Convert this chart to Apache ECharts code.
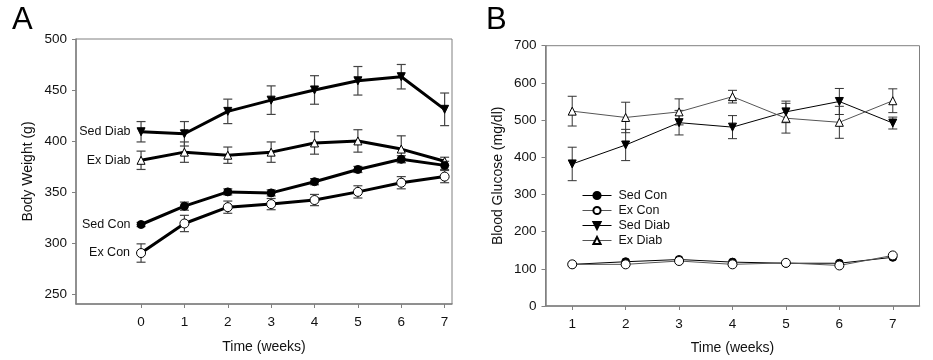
<!DOCTYPE html>
<html>
<head>
<meta charset="utf-8">
<script src="https://cdn.jsdelivr.net/npm/echarts@6/dist/echarts.min.js"></script>
<style>
  html, body { margin: 0; padding: 0; background: #fff; }
  #chart { width: 933px; height: 360px; }
</style>
</head>
<body>
<div id="chart"></div>
<script>
// Panel A: body weight (g), weeks 0-7
const weeksA = [0, 1, 2, 3, 4, 5, 6, 7];
const sedDiabA = [409, 407, 429, 440, 450, 459, 463, 431];
const sedDiabAErr = [10, 12, 12, 14, 14, 14, 12, 16];
const exDiabA = [381, 389, 386, 389, 398, 400, 392, 380];
const exDiabAErr = [9, 10, 8, 10, 11, 11, 13, 4];
const sedConA = [318, 336, 350, 349, 360, 372, 382, 376];
const sedConAErr = [2, 4, 3, 3, 3, 3, 3.5, 4];
const exConA = [290, 319, 335, 338, 342, 350, 359, 365];
const exConAErr = [9, 8, 6, 5.5, 5.5, 6, 6, 6];
const ticksA = [250, 300, 350, 400, 450, 500];

// Panel B: blood glucose (mg/dl), weeks 1-7
const weeksB = [1, 2, 3, 4, 5, 6, 7];
const sedConB = [112, 119, 125, 118, 115, 115, 131];
const exConB = [112, 112, 121, 112, 116, 109, 136];
const sedDiabB = [382, 433, 493, 481, 522, 550, 492];
const sedDiabBErr = [45, 42, 33, 31, 29, 35, 16];
const exDiabB = [524, 507, 522, 563, 505, 494, 552];
const exDiabBErr = [40, 41, 35, 17, 40, 43, 32];

const FONT = 'Liberation Sans';
const downTri = 'path://M0,0 L10,0 L5,9 Z';

function pts(xs, ys, label) {
  return xs.map((x, i) => {
    const item = { value: [x, ys[i]] };
    if (label && i === 0) {
      item.label = {
        show: true, position: 'left', distance: 6, formatter: label,
        fontFamily: FONT, fontSize: 12.5, color: '#111'
      };
    }
    return item;
  });
}

function errData(xs, ys, es) {
  return xs.map((x, i) => [x, ys[i] - es[i], ys[i] + es[i]]);
}

function errRender(color, width) {
  return function (params, api) {
    const x = api.value(0);
    const lo = api.coord([x, api.value(1)]);
    const hi = api.coord([x, api.value(2)]);
    const w = 4.5;
    const st = { stroke: color, lineWidth: width };
    return {
      type: 'group',
      children: [
        { type: 'line', shape: { x1: lo[0], y1: lo[1], x2: hi[0], y2: hi[1] }, style: st },
        { type: 'line', shape: { x1: lo[0] - w, y1: lo[1], x2: lo[0] + w, y2: lo[1] }, style: st },
        { type: 'line', shape: { x1: hi[0] - w, y1: hi[1], x2: hi[0] + w, y2: hi[1] }, style: st }
      ]
    };
  };
}

function errSeries(idx, xs, ys, es, color, width) {
  return {
    type: 'custom', xAxisIndex: idx, yAxisIndex: idx, z: 1, silent: true,
    renderItem: errRender(color, width),
    encode: { x: 0, y: [1, 2] },
    data: errData(xs, ys, es)
  };
}

function lineSeries(idx, name, xs, ys, opts) {
  return {
    type: 'line', name: name, xAxisIndex: idx, yAxisIndex: idx, z: 3,
    symbol: opts.symbol, symbolSize: opts.size || 8,
    showAllSymbol: true,
    lineStyle: { color: opts.line, width: opts.width },
    itemStyle: { color: opts.fill, borderColor: '#000', borderWidth: 1 },
    emphasis: { disabled: true },
    data: pts(xs, ys, opts.label)
  };
}

const axisText = { fontFamily: FONT, fontSize: 13.5, color: '#111' };
const nameText = { fontFamily: FONT, fontSize: 14, color: '#111' };
const axisLine = { show: true, onZero: false, lineStyle: { color: '#808080', width: 1.5 } };
const axisTick = { show: true, length: 4, lineStyle: { color: '#808080' } };

const chart = echarts.init(document.getElementById('chart'));
chart.setOption({
  animation: false,
  graphic: [
    { type: 'text', left: 12, top: 5, style: { text: 'A', font: '31px "Liberation Sans"', fill: '#000' } },
    { type: 'text', left: 486, top: 5, style: { text: 'B', font: '31px "Liberation Sans"', fill: '#000' } }
  ],
  grid: [
    { left: 76, top: 39, width: 376, height: 265, show: true, borderColor: '#808080', borderWidth: 1 },
    { left: 545.5, top: 45.7, width: 374, height: 261.6, show: true, borderColor: '#808080', borderWidth: 1 }
  ],
  legend: {
    orient: 'vertical', left: 577, top: 184,
    itemWidth: 29, itemHeight: 9, itemGap: 2,
    lineStyle: { width: 1 },
    textStyle: { fontFamily: FONT, fontSize: 12.5, color: '#111', lineHeight: 12, padding: [0, 0, 0, 2] },
    data: ['Sed Con', 'Ex Con', 'Sed Diab', 'Ex Diab']
  },
  xAxis: [
    {
      type: 'value', gridIndex: 0, min: -1.5, max: 7.17,
      name: 'Time (weeks)', nameLocation: 'middle', nameGap: 36, nameTextStyle: nameText,
      axisLine: axisLine, axisTick: Object.assign({ customValues: weeksA }, axisTick),
      axisLabel: Object.assign({ customValues: weeksA, margin: 11 }, axisText),
      splitLine: { show: false }
    },
    {
      type: 'value', gridIndex: 1, min: 0.5, max: 7.5,
      name: 'Time (weeks)', nameLocation: 'middle', nameGap: 35, nameTextStyle: nameText,
      axisLine: axisLine, axisTick: Object.assign({ customValues: weeksB }, axisTick),
      axisLabel: Object.assign({ customValues: weeksB, margin: 11 }, axisText),
      splitLine: { show: false }
    }
  ],
  yAxis: [
    {
      type: 'value', gridIndex: 0, min: 240, max: 500,
      name: 'Body Weight (g)', nameLocation: 'middle', nameGap: 41, nameTextStyle: nameText,
      axisLine: axisLine, axisTick: Object.assign({ customValues: ticksA }, axisTick),
      axisLabel: Object.assign({ customValues: ticksA, margin: 9 }, axisText),
      splitLine: { show: false }
    },
    {
      type: 'value', gridIndex: 1, min: 0, max: 700, interval: 100,
      name: 'Blood Glucose (mg/dl)', nameLocation: 'middle', nameGap: 40, nameTextStyle: nameText,
      axisLine: axisLine, axisTick: axisTick,
      axisLabel: Object.assign({ margin: 9 }, axisText),
      splitLine: { show: false }
    }
  ],
  series: [
    errSeries(0, weeksA, sedDiabA, sedDiabAErr, '#444', 1.2),
    errSeries(0, weeksA, exDiabA, exDiabAErr, '#444', 1.2),
    errSeries(0, weeksA, sedConA, sedConAErr, '#444', 1.2),
    errSeries(0, weeksA, exConA, exConAErr, '#444', 1.2),
    lineSeries(0, 'A Sed Diab', weeksA, sedDiabA, { symbol: downTri, fill: '#000', line: '#000', width: 3, label: 'Sed Diab' }),
    lineSeries(0, 'A Ex Diab', weeksA, exDiabA, { symbol: 'triangle', fill: '#fff', line: '#000', width: 3, label: 'Ex Diab' }),
    lineSeries(0, 'A Sed Con', weeksA, sedConA, { symbol: 'circle', fill: '#000', line: '#000', width: 3, label: 'Sed Con' }),
    lineSeries(0, 'A Ex Con', weeksA, exConA, { symbol: 'circle', fill: '#fff', line: '#000', width: 3, label: 'Ex Con', size: 9 }),

    errSeries(1, weeksB, sedDiabB, sedDiabBErr, '#333', 1),
    errSeries(1, weeksB, exDiabB, exDiabBErr, '#333', 1),
    lineSeries(1, 'Sed Con', weeksB, sedConB, { symbol: 'circle', fill: '#000', line: '#000', width: 1 }),
    lineSeries(1, 'Ex Con', weeksB, exConB, { symbol: 'circle', fill: '#fff', line: '#555', width: 1, size: 9 }),
    lineSeries(1, 'Sed Diab', weeksB, sedDiabB, { symbol: downTri, fill: '#000', line: '#000', width: 1 }),
    lineSeries(1, 'Ex Diab', weeksB, exDiabB, { symbol: 'triangle', fill: '#fff', line: '#555', width: 1 })
  ]
});
</script>
</body>
</html>
